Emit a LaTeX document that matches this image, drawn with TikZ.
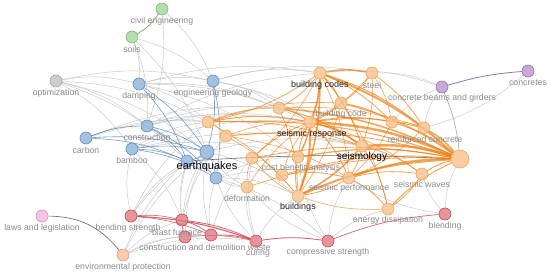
\documentclass[tikz,border=0pt]{standalone}
\usepackage{fontspec}
\setmainfont{Liberation Sans}
\pgfdeclarelayer{bg}
\pgfsetlayers{bg,main}
\definecolor{cblue}{HTML}{8DB1D8}\definecolor{cbluel}{HTML}{5F8DC0}
\definecolor{corg}{HTML}{F6C08A}\definecolor{corgl}{HTML}{ECA55E}
\definecolor{cred}{HTML}{DE7A82}\definecolor{credl}{HTML}{C24B56}
\definecolor{cgrn}{HTML}{A3D49D}\definecolor{cgrnl}{HTML}{7CB874}
\definecolor{cgry}{HTML}{C2C2C2}\definecolor{cgryl}{HTML}{A0A0A0}
\definecolor{cpur}{HTML}{BA95CE}\definecolor{cpurl}{HTML}{9670AC}
\definecolor{cpnk}{HTML}{F2B6DF}\definecolor{cpnkl}{HTML}{D98EC4}
\definecolor{csal}{HTML}{F4BE9E}\definecolor{csall}{HTML}{DFA07C}
\definecolor{eorg}{HTML}{EC7F12}\definecolor{eblu}{HTML}{4A7BB2}
\definecolor{ered}{HTML}{C8404A}\definecolor{lblgray}{HTML}{8A8A8A}
\tikzset{
 bub/.style 2 args={circle,minimum size=12pt,inner sep=0pt,fill=#1,draw=#2,line width=0.6pt,fill opacity=0.8},
 nb/.style={bub={cblue}{cbluel}}, no/.style={bub={corg}{corgl}}, nr/.style={bub={cred}{credl}},
 ng/.style={bub={cgrn}{cgrnl}}, nk/.style={bub={cgry}{cgryl}}, np/.style={bub={cpur}{cpurl}},
 npk/.style={bub={cpnk}{cpnkl}}, ns/.style={bub={csal}{csall}},
 lbl/.style={text=lblgray,font=\fontsize{8.7}{9}\selectfont,inner sep=0pt},
 blbl/.style={text=black!85,font=\fontsize{9}{10}\selectfont,inner sep=0pt},
 gedge/.style={draw=gray!45,line width=0.45pt},
 dedge/.style={draw=gray!80!black,line width=0.6pt},
 bedge/.style={draw=eblu,line width=0.6pt,draw opacity=0.75},
 oedge/.style={draw=eorg,line width=0.7pt,draw opacity=0.7},
 redge/.style={draw=ered,line width=0.8pt,draw opacity=0.8},
}
\begin{document}
\begin{tikzpicture}[x=1pt,y=-1pt]
\useasboundingbox (0,0) rectangle (550,275);
% nodes
\node[ng] (ce) at (162,9) {};
\node[ng] (soil) at (132,37) {};
\node[nk] (opt) at (56,81) {};
\node[nb] (damp) at (139,84) {};
\node[nb] (geo) at (213,81) {};
\node[nb] (cons) at (147,126) {};
\node[nb] (carb) at (86,138) {};
\node[nb] (bam) at (132,149) {};
\node[nb,minimum size=14pt] (eq) at (207,152) {};
\node[nb] (b2) at (187,161) {};
\node[nb] (b3) at (216,178) {};
\node[no] (bc) at (320,73) {};
\node[no] (steel) at (372,73) {};
\node[no] (bcode) at (341,103) {};
\node[no] (o1) at (208,122) {};
\node[no] (o2) at (226,136) {};
\node[no] (o3) at (279,108) {};
\node[no] (sr) at (310,122) {};
\node[no] (o4) at (392,122) {};
\node[no] (rc) at (424,128) {};
\node[no,minimum size=18pt] (big) at (460,159) {};
\node[no] (smg) at (362,146) {};
\node[no] (o5) at (252,158) {};
\node[no] (cba) at (298,157) {};
\node[no] (o6) at (282,175) {};
\node[no] (sp) at (349,178) {};
\node[no] (sw) at (422,174) {};
\node[no] (ed) at (388,209) {};
\node[no] (bld) at (298,196) {};
\node[no] (def) at (247,187) {};
\node[np] (cbg) at (442,87) {};
\node[np] (conc) at (528,71) {};
\node[nr] (bs) at (131,216) {};
\node[nr] (bf) at (182,220) {};
\node[nr] (cd1) at (185,237) {};
\node[nr] (cd2) at (211,235) {};
\node[nr] (cur) at (256,241) {};
\node[nr] (cs) at (328,241) {};
\node[nr] (blend) at (445,214) {};
\node[npk] (law) at (42,216) {};
\node[ns] (env) at (123,255) {};
% edges
\begin{pgfonlayer}{bg}
\foreach \a/\b in {ce/geo,ce/cons,soil/damp,soil/geo,soil/cons,soil/eq,opt/geo,opt/damp,opt/o1,opt/cons,opt/eq,opt/b2,opt/bam,
 damp/geo,damp/o1,damp/sr,damp/o3,damp/cba,geo/bc,geo/steel,geo/o3,geo/sr,geo/smg,carb/o1,carb/o3,cons/o3,cons/o1,cons/sr,
 bam/o1,bam/bf,bam/sr,bam/cba,eq/bld,eq/smg,b3/cba,b3/bld,b3/sp,b3/cs,bf/eq,bf/b2,cd1/eq,cd2/eq,cd2/b3,cd1/b2,bf/o2,cd2/o5,
 bs/eq,bs/b2,bs/o1,env/eq,env/bf,env/cd2,env/b2,env/cd1,env/cur,cur/bld,cur/def,cur/o5,cs/sp,cs/ed,cs/def,cs/cba,
 blend/big,blend/sw,blend/sp,rc/cbg,steel/cbg,bc/cbg,o4/cbg,conc/rc,def/b3,def/eq,bs/bam,cur/b3,damp/bc,cons/bc,carb/sr,bam/smg}
 \draw[gedge] (\a) to[bend left=12] (\b);
\draw[dedge] (b2) to[bend left=3] (big);
\draw[dedge] (law) to[bend left=25] (env);
\draw[dedge,draw opacity=0.6] (cbg) to[bend left=8] (big);
\foreach \a/\b in {damp/eq,damp/b2,geo/eq,geo/b3,cons/eq,cons/b2,carb/cons,carb/eq,carb/b2,bam/eq,bam/b2,bam/b3,eq/b2,eq/b3,cons/b3}
 \draw[bedge] (\a) to[bend left=10] (\b);
\foreach \a/\b/\w in {bc/steel/1.6,bc/big/2,bc/sr/1.6,bc/o3/0.8,bc/bcode/1,bc/rc/1,bc/o4/0.8,bc/smg/1,bc/bld/1.6,bc/o1/0.8,bc/cba/0.6,bc/o5/0.6,bc/sp/0.6,
 o1/sr/1,o1/big/1,o1/o2/0.6,o1/bcode/0.6,o1/smg/0.8,o1/o3/0.6,o2/big/0.8,o2/sr/0.6,o2/bld/0.6,o2/sp/0.6,
 o3/big/1.5,o3/sr/0.8,o3/smg/1,o3/bld/0.8,o3/rc/0.6,sr/big/2.5,sr/smg/1.6,sr/bld/2,sr/rc/1,sr/o4/0.8,sr/sp/0.8,sr/sw/0.6,sr/cba/1,
 bcode/o4/0.8,bcode/big/1.2,bcode/sr/0.8,bcode/bld/0.6,bcode/ed/0.6,steel/o4/0.6,steel/rc/0.8,steel/bcode/0.6,steel/sr/0.8,steel/smg/0.6,
 o4/big/1,o4/rc/0.6,o4/sp/0.6,rc/big/1.5,rc/sp/0.6,smg/big/2.5,smg/bld/1.6,smg/sp/0.8,smg/sw/0.8,smg/ed/0.8,
 sp/big/1.5,sp/sw/0.8,sp/ed/0.8,sp/bld/0.8,sw/big/1,sw/ed/0.8,ed/big/1,ed/bld/0.6,bld/big/2,bld/cba/0.8,bld/o5/0.6,
 cba/big/1.2,cba/sr/0.8,o5/big/0.8,o5/sr/0.8,o6/big/0.8,o6/sp/0.6,def/big/0.8,def/sr/0.6,def/o5/0.6,o6/sr/0.6,o1/bld/0.6,o2/smg/0.6}
 \draw[oedge,line width=\w pt] (\a) to[bend left=10] (\b);
\foreach \a/\b/\w in {bs/cur/1.1,bs/bf/0.6,bf/cd2/0.8,bf/cur/0.8,cd2/cur/0.9,cd1/cur/0.6,cd1/bf/0.6,cur/cs/0.9,cs/blend/0.7,bs/cd2/0.6}
 \draw[redge,line width=\w pt] (\a) to[bend left=8] (\b);
\draw[draw=cgrnl,line width=0.8pt] (ce) to[bend left=12] (soil);
\draw[draw=cpurl,line width=0.8pt] (cbg) to[bend left=6] (conc);
\end{pgfonlayer}
% labels
\node[lbl] (l-ce) at (162,21) {civil engineering};
\node[lbl] (l-soil) at (132,49) {soils};
\node[lbl] (l-opt) at (56,93) {optimization};
\node[lbl] (l-damp) at (139,96) {damping};
\node[lbl] (l-geo) at (213,93) {engineering geology};
\node[lbl] (l-cons) at (147,137) {construction};
\node[lbl] (l-carb) at (86,150) {carbon};
\node[lbl] (l-bam) at (132,160) {bamboo};
\node[text=black,font=\fontsize{11}{12}\selectfont,inner sep=0pt] (l-eq) at (207,167) {earthquakes};
\node[blbl] (l-bc) at (320,85) {building codes};
\node[lbl] (l-steel) at (372,85) {steel};
\node[lbl] (l-bcode) at (341,114) {building code};
\node[blbl] (l-sr) at (312,134) {seismic response};
\node[lbl] (l-rc) at (425,139) {reinforced concrete};
\node[text=black,font=\fontsize{10}{11}\selectfont,inner sep=0pt] (l-smg) at (362,157) {seismology};
\node[lbl] (l-cba) at (301,168) {cost benefit analysis};
\node[lbl] (l-sp) at (349,188) {seismic performance};
\node[lbl] (l-sw) at (422,184) {seismic waves};
\node[lbl] (l-def) at (247,198) {deformation};
\node[blbl] (l-bld) at (298,207) {buildings};
\node[lbl] (l-ed) at (388,220) {energy dissipation};
\node[lbl] (l-cbg) at (442,98) {concrete beams and girders};
\node[lbl] (l-conc) at (528,83) {concretes};
\node[lbl] (l-law) at (42,228) {laws and legislation};
\node[lbl] (l-bs) at (128,228) {bending strength};
\node[lbl] (l-bf) at (177,232) {blast furnace};
\node[lbl] (l-cdw) at (205,247) {construction and demolition waste};
\node[lbl] (l-cur) at (258,253) {curing};
\node[lbl] (l-cs) at (328,252) {compressive strength};
\node[lbl] (l-blend) at (445,226) {blending};
\node[lbl] (l-env) at (123,267) {environmental protection};
\end{tikzpicture}
\end{document}
